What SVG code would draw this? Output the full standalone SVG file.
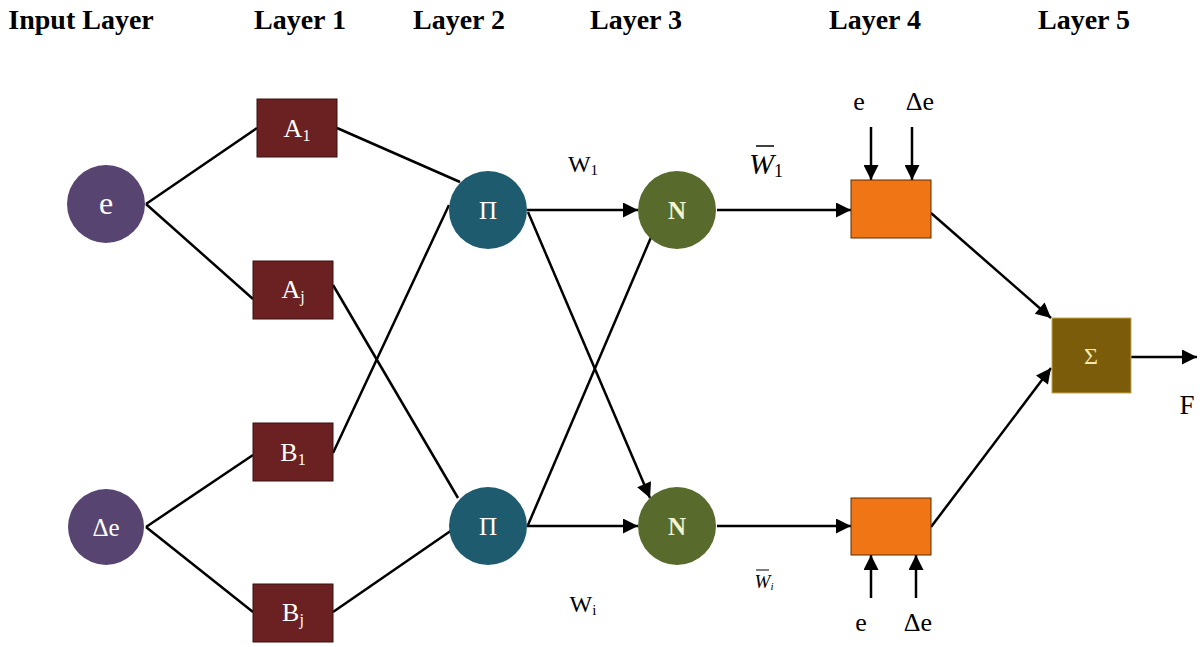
<svg xmlns="http://www.w3.org/2000/svg" width="1200" height="647" viewBox="0 0 1200 647">
<defs>
<style>
.hdr{font-family:"Liberation Serif",serif;font-weight:bold;font-size:28px;fill:#000;text-anchor:middle}
.lbl{font-family:"Liberation Serif",serif;fill:#000;text-anchor:middle}
.wt{font-family:"Liberation Serif",serif;fill:#fff;text-anchor:middle}
.in{fill:#574470}
.mf{fill:#6B2121;stroke:#3a1010;stroke-width:1}
.pi{fill:#1F5B6E}
.nn{fill:#586A2C}
.or{fill:#F07615;stroke:#5a2a05;stroke-width:1}
.sg{fill:#7B5C0B;stroke:#c8a84a;stroke-width:1}
.ln{stroke:#000;stroke-width:2.5;fill:none}
</style>
<marker id="ah" viewBox="0 0 10 10" refX="10" refY="5" markerWidth="6.5" markerHeight="6" markerUnits="strokeWidth" orient="auto">
<path d="M0,0 L10,5 L0,10 z" fill="#000"/>
</marker>
</defs>
<rect width="1200" height="647" fill="#fff"/>
<g id="headers">
<text class="hdr" x="81" y="29">Input Layer</text>
<text class="hdr" x="300" y="29">Layer 1</text>
<text class="hdr" x="459" y="29">Layer 2</text>
<text class="hdr" x="636" y="29">Layer 3</text>
<text class="hdr" x="875" y="29">Layer 4</text>
<text class="hdr" x="1084" y="29">Layer 5</text>
</g>
<g id="connectors">
<line class="ln" x1="146" y1="204" x2="257" y2="128"/>
<line class="ln" x1="146" y1="204" x2="253" y2="299"/>
<line class="ln" x1="146" y1="527" x2="253" y2="455"/>
<line class="ln" x1="146" y1="527" x2="253" y2="612"/>
<line class="ln" x1="337" y1="128" x2="460" y2="182"/>
<line class="ln" x1="333" y1="285" x2="458" y2="498"/>
<line class="ln" x1="333" y1="453" x2="449" y2="205"/>
<line class="ln" x1="333" y1="612" x2="452" y2="530"/>
<line class="ln" x1="527" y1="210" x2="638" y2="210" marker-end="url(#ah)"/>
<line class="ln" x1="527" y1="526" x2="638" y2="526" marker-end="url(#ah)"/>
<line class="ln" x1="528" y1="212" x2="650" y2="498" marker-end="url(#ah)"/>
<line class="ln" x1="528" y1="525" x2="652" y2="235"/>
<line class="ln" x1="717" y1="210" x2="851" y2="210" marker-end="url(#ah)"/>
<line class="ln" x1="717" y1="526" x2="851" y2="526" marker-end="url(#ah)"/>
<line class="ln" x1="871" y1="127" x2="871" y2="180" marker-end="url(#ah)"/>
<line class="ln" x1="912" y1="127" x2="912" y2="180" marker-end="url(#ah)"/>
<line class="ln" x1="871" y1="598" x2="871" y2="555" marker-end="url(#ah)"/>
<line class="ln" x1="916" y1="598" x2="916" y2="555" marker-end="url(#ah)"/>
<line class="ln" x1="931" y1="213" x2="1051" y2="318" marker-end="url(#ah)"/>
<line class="ln" x1="931" y1="527" x2="1051" y2="368" marker-end="url(#ah)"/>
<line class="ln" x1="1131" y1="357" x2="1197" y2="357" marker-end="url(#ah)"/>
</g>
<g id="node-e">
<circle class="in" cx="106" cy="204" r="39"/>
<text class="wt" x="106" y="214" font-size="32">e</text>
</g>
<g id="node-de">
<circle class="in" cx="106" cy="527" r="38"/>
<text class="wt" x="106" y="536" font-size="25">Δe</text>
</g>
<g id="node-A1">
<rect class="mf" x="257" y="99" width="80" height="58"/>
<text class="wt" x="297" y="137" font-size="26">A<tspan font-size="16" dy="4">1</tspan></text>
</g>
<g id="node-Aj">
<rect class="mf" x="253" y="261" width="80" height="58"/>
<text class="wt" x="293" y="298" font-size="26">A<tspan font-size="16" dy="4">j</tspan></text>
</g>
<g id="node-B1">
<rect class="mf" x="253" y="423" width="80" height="58"/>
<text class="wt" x="293" y="461" font-size="26">B<tspan font-size="16" dy="4">1</tspan></text>
</g>
<g id="node-Bj">
<rect class="mf" x="253" y="584" width="80" height="58"/>
<text class="wt" x="293" y="621" font-size="26">B<tspan font-size="16" dy="4">j</tspan></text>
</g>
<g id="node-pi1">
<circle class="pi" cx="488" cy="210" r="39"/>
<text class="wt" x="488" y="219" font-size="25">Π</text>
</g>
<g id="node-pi2">
<circle class="pi" cx="488" cy="526" r="39"/>
<text class="wt" x="488" y="535" font-size="25">Π</text>
</g>
<g id="node-n1">
<circle class="nn" cx="677" cy="210" r="39"/>
<text class="wt" x="677" y="219" font-size="25" font-weight="bold" style="fill:#f0f5d0">N</text>
</g>
<g id="node-n2">
<circle class="nn" cx="677" cy="526" r="39"/>
<text class="wt" x="677" y="535" font-size="25" font-weight="bold" style="fill:#f0f5d0">N</text>
</g>
<g id="node-r1">
<rect class="or" x="851" y="180" width="80" height="58"/>
</g>
<g id="node-r2">
<rect class="or" x="851" y="498" width="80" height="57"/>
</g>
<g id="node-sum">
<rect class="sg" x="1052" y="318" width="79" height="75"/>
<text class="wt" x="1091" y="364" font-size="24" style="fill:#f5e9b0">Σ</text>
</g>
<g id="labels">
<text class="lbl" x="583" y="172" font-size="24">W<tspan font-size="15" dy="3">1</tspan></text>
<text class="lbl" x="583" y="612" font-size="24">W<tspan font-size="15" dy="3">i</tspan></text>
<text class="lbl" x="766" y="174" font-size="30" font-style="italic">W<tspan font-size="18" font-style="normal" dy="3">1</tspan></text>
<line x1="756" y1="146" x2="774" y2="146" stroke="#000" stroke-width="1.5"/>
<text class="lbl" x="764" y="588" font-size="19" font-style="italic">W<tspan font-size="11" dy="2">i</tspan></text>
<line x1="756" y1="570" x2="769" y2="570" stroke="#000" stroke-width="1"/>
<text class="lbl" x="859" y="110" font-size="26">e</text>
<text class="lbl" x="920" y="110" font-size="26">Δe</text>
<text class="lbl" x="861" y="631" font-size="26">e</text>
<text class="lbl" x="918" y="631" font-size="26">Δe</text>
<text class="lbl" x="1187" y="414" font-size="27">F</text>
</g>
</svg>
